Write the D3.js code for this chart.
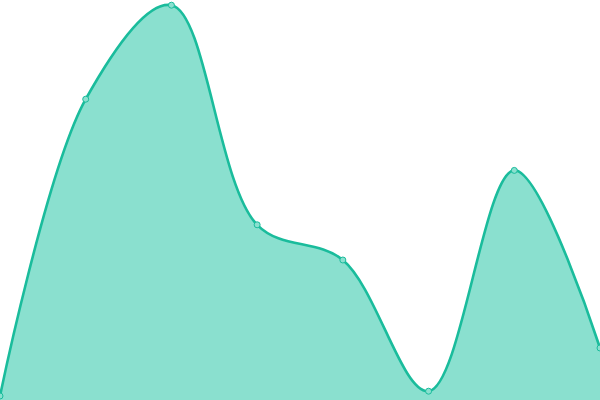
<html>
<head>
<meta charset="UTF-8" />
<script src="https://d3js.org/d3.v7.min.js"></script>
<style>
  body { margin: 0; background: #fff; }
</style>
</head>
<body>
<svg id="chart" width="600" height="400"></svg>
<script>
  // series values (domain 0..100)
  var labels = ["a", "b", "c", "d", "e", "f", "g", "h"];
  var values = [1, 75.2, 98.7, 43.8, 35, 2.2, 57.4, 13];

  var width = 600;
  var height = 400;
  var svg = d3.select("#chart");

  var xScale = d3.scalePoint().domain(labels).range([0, width]);
  var yScale = d3.scaleLinear().domain([0, 100]).range([height, 0]);

  var pts = labels.map(function(l, i) { return {label: l, value: values[i]}; });

  var curve = d3.curveCatmullRom.alpha(0.5);

  var area = d3.area()
    .x(function(d) { return xScale(d.label); })
    .y0(yScale(0))
    .y1(function(d) { return yScale(d.value); })
    .curve(curve);

  var line = d3.line()
    .x(function(d) { return xScale(d.label); })
    .y(function(d) { return yScale(d.value); })
    .curve(curve);

  svg.append("path").datum(pts)
    .attr("d", area)
    .style("fill", "#8ae0cf");

  svg.append("path").datum(pts)
    .attr("d", line)
    .style("fill", "none")
    .style("stroke", "#1abc9c")
    .style("stroke-width", 2.6);

  svg.selectAll("circle.pt").data(pts).enter().append("circle")
    .attr("class", "pt")
    .attr("cx", function(d) { return xScale(d.label); })
    .attr("cy", function(d) { return yScale(d.value); })
    .attr("r", 3)
    .style("fill", "#8ae0cf")
    .style("stroke", "#1abc9c")
    .style("stroke-width", 1);
</script>
</body>
</html>
